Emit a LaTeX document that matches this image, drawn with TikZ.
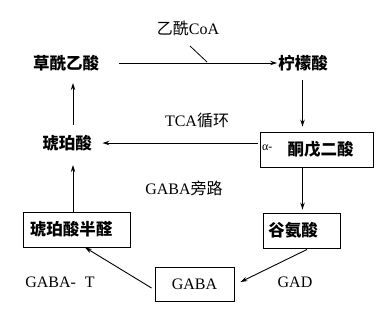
\documentclass[tikz,border=0pt]{standalone}
\usepackage{fontspec}
\setmainfont{Liberation Serif}
\newfontfamily\cjk{Noto Sans CJK SC}
\usetikzlibrary{arrows.meta}
\begin{document}
\begin{tikzpicture}[x=1pt,y=-1pt,
  lbl/.style={inner sep=0pt, font=\fontsize{16}{16}\selectfont},
  cn/.style={inner sep=0pt, font=\fontsize{16.5}{17}\selectfont\cjk\bfseries},
  bx/.style={draw, line width=0.9pt, minimum height=35pt, inner sep=0pt},
  arr/.style={-{Stealth[length=7pt,width=4.5pt]}, line width=0.9pt}]
\useasboundingbox (0,0) rectangle (388,322);
\coordinate (xl) at (73,0);
\coordinate (xr) at (302.5,0);
% nodes
\node[cn] (oaa) at (66,63) {草酰乙酸};
\node[cn] (cit) at (303,63) {柠檬酸};
\node[lbl] (acoa) at (188,28) {{\cjk 乙酰}CoA};
\node[lbl] (tca) at (197,120) {TCA{\cjk 循环}};
\node[cn] (suc) at (67,143) {琥珀酸};
\node[bx, minimum width=113pt] (akg) at (316.5,149.5) {};
\node[inner sep=0pt, font=\fontsize{12}{12}\selectfont, anchor=west] (alpha) at (262,148) {α-};
\node[cn] (akgt) at (320.5,149.5) {酮戊二酸};
\node[lbl] (shunt) at (184,188) {GABA{\cjk 旁路}};
\node[bx, minimum width=107pt] (ssa) at (76.5,229.5) {};
\node[cn] (ssat) at (71,229.5) {琥珀酸半醛};
\node[bx, minimum width=77pt] (glu) at (301.5,230.5) {};
\node[cn] (glut) at (293,230.5) {谷氨酸};
\node[bx, lbl, minimum width=79pt, minimum height=34pt] (gaba) at (194.5,284) {GABA};
\node[lbl] (gabat) at (60,282) {GABA-\hspace{9pt}T};
\node[lbl] (gad) at (295,282) {GAD};
% connectors
\draw[arr, shorten <=20pt, shorten >=1pt] (oaa.east) -- (cit.west);
\coordinate (slashtop) at (190,46);
\coordinate (slashbot) at (207,62);
\draw[line width=0.8pt] (slashtop) -- (slashbot);
\draw[arr, shorten <=9pt, shorten >=5pt] (cit.south -| xr) -- (akg.north -| xr);
\draw[arr, shorten <=2pt, shorten >=10.5pt] (akg.west |- suc.east) -- (suc.east);
\draw[arr, shorten <=10pt, shorten >=12pt] (suc.north -| xl) -- (oaa.south -| xl);
\draw[arr, shorten >=14pt] (ssa.north -| xl) -- (suc.south -| xl);
\draw[arr, shorten >=3pt] (akg.south -| xr) -- (glu.north -| xr);
\draw[arr] ([xshift=5.5pt,yshift=-1pt]glu.south) -- ([xshift=6pt,yshift=2pt]gaba.east);
\draw[arr] ([xshift=-3pt,yshift=-4pt]gaba.west) -- ([xshift=8.5pt]ssa.south);
\end{tikzpicture}
\end{document}
